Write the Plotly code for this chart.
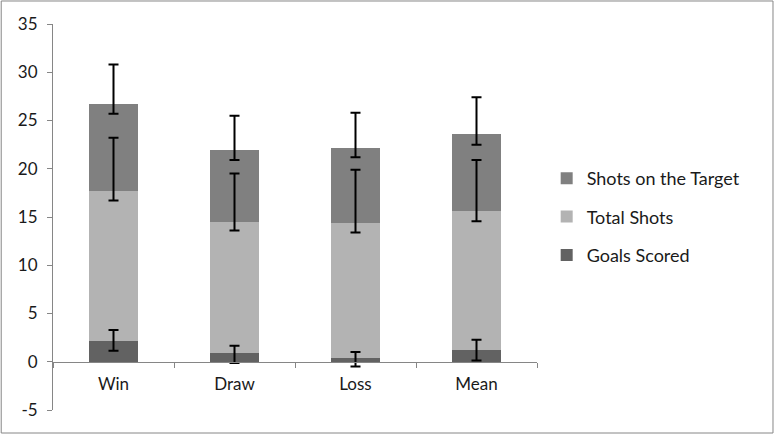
import plotly.graph_objects as go

categories = ["Win", "Draw", "Loss", "Mean"]

# segment heights (stacked)
goals_scored = [2.2, 0.86, 0.34, 1.2]
total_shots = [15.5, 13.64, 14.06, 14.4]
shots_on_target = [9.05, 7.4, 7.8, 7.95]

# error bars (plus / minus)
goals_err_plus = [1.1, 0.8, 0.66, 1.07]
goals_err_minus = [1.05, 1.0, 0.84, 1.07]
total_err_plus = [5.5, 5.0, 5.5, 5.3]
total_err_minus = [1.0, 0.9, 1.0, 1.05]
sot_err_plus = [4.05, 3.6, 3.6, 3.85]
sot_err_minus = [1.05, 1.0, 1.0, 1.05]

y_ticks = [-5, 0, 5, 10, 15, 20, 25, 30, 35]
y_tick_labels = ["-5", "0", "5", "10", "15", "20", "25", "30", "35"]

fig = go.Figure()

series = [
    ("Goals Scored", goals_scored, goals_err_plus, goals_err_minus, "#626262", 3),
    ("Total Shots", total_shots, total_err_plus, total_err_minus, "#b3b3b3", 2),
    ("Shots on the Target", shots_on_target, sot_err_plus, sot_err_minus, "#808080", 1),
]
for name, vals, ep, em, col, rank in series:
    fig.add_trace(go.Bar(
        x=categories, y=vals, name=name, legendgroup=name, legendrank=rank,
        marker=dict(color=col, line=dict(width=0)),
    ))

# error bars drawn on top of every segment, at the stacked tops
base = [0.0] * len(categories)
for name, vals, ep, em, col, rank in series:
    base = [b + v for b, v in zip(base, vals)]
    fig.add_trace(go.Scatter(
        x=categories, y=base, mode="markers", showlegend=False,
        marker=dict(size=1, opacity=0), hoverinfo="skip",
        error_y=dict(type="data", symmetric=False, array=ep, arrayminus=em,
                     color="black", thickness=2, width=5),
    ))

fig.update_layout(
    barmode="stack",
    bargap=0.6,
    width=775, height=435,
    margin=dict(l=53, r=238, t=24, b=25),
    plot_bgcolor="white", paper_bgcolor="white",
    font=dict(family="Lato", size=17, color="#1a1a1a"),
    showlegend=True,
    legend=dict(x=1.02, y=0.5, yanchor="middle", traceorder="grouped",
                tracegroupgap=12, font=dict(size=18)),
)

fig.update_yaxes(
    range=[-5, 35], tickvals=y_ticks, ticktext=y_tick_labels,
    showgrid=False, zeroline=False,
    showline=True, linecolor="#868686", linewidth=1,
    ticks="outside", ticklen=5, tickcolor="#868686", ticklabelstandoff=6,
)
fig.update_xaxes(
    anchor="free", position=0.125, tickson="boundaries",
    showline=True, linecolor="#868686", linewidth=1, showgrid=False,
    ticks="outside", ticklen=5, tickcolor="#868686", ticklabelstandoff=7,
)

# chart area border
fig.add_shape(type="rect", xref="paper", yref="paper",
              x0=-0.107, x1=1.4876, y0=-0.0596, y1=1.0596,
              line=dict(color="#868686", width=1))

fig.write_html("out.html", config={"displayModeBar": False},
               post_script="document.body.style.margin='0px';")
